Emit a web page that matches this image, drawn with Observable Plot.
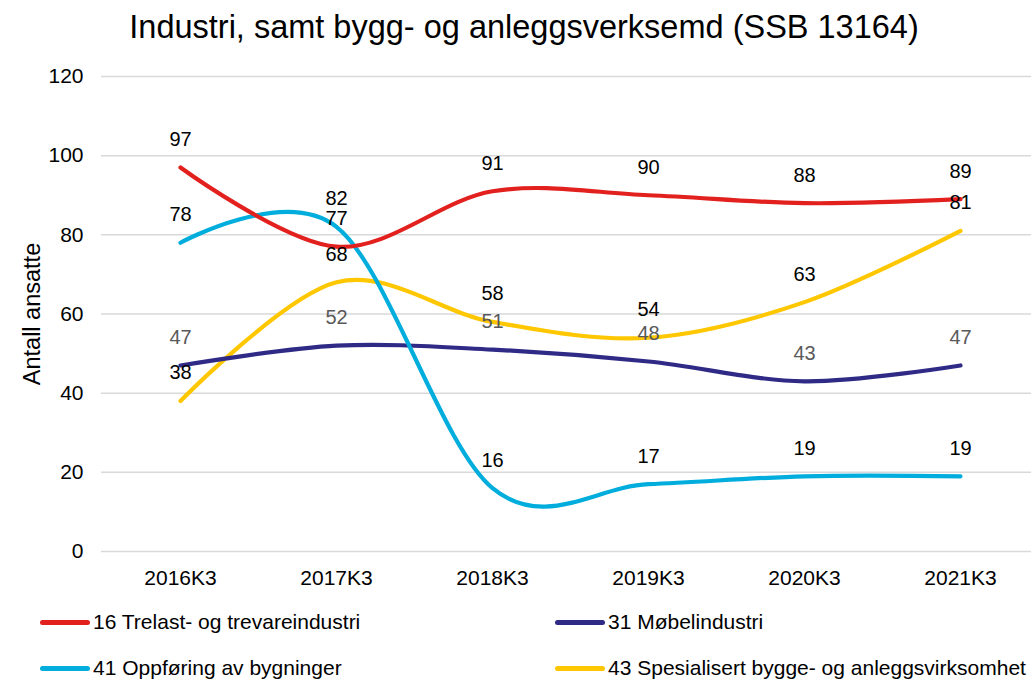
<!DOCTYPE html>
<html>
<head>
<meta charset="utf-8">
<script src="https://cdn.jsdelivr.net/npm/d3@7"></script>
<script src="https://cdn.jsdelivr.net/npm/@observablehq/plot@0.6"></script>
<style>
  html, body { margin: 0; padding: 0; background: #fff; }
  body { width: 1031px; height: 682px; position: relative; overflow: hidden; font-family: "Liberation Sans", Arial, sans-serif; }
  #title { position: absolute; left: 0; top: 0; width: 1031px; height: 55px; line-height: 55px; text-align: center; font-size: 32.5px; color: #000; padding-left: 17px; box-sizing: border-box; }
  #chart { position: absolute; left: 0; top: 55px; }
  .leg { position: absolute; display: flex; align-items: center; font-size: 21px; color: #000; white-space: nowrap; }
  .sw { width: 50px; height: 5px; border-radius: 3px; margin-right: 3px; }
</style>
</head>
<body>
<div id="title"></div>
<div id="chart"></div>
<div id="legend"></div>
<script>
const titleText = "Industri, samt bygg- og anleggsverksemd (SSB 13164)";
const yLabel = "Antall ansatte";
const categories = ["2016K3", "2017K3", "2018K3", "2019K3", "2020K3", "2021K3"];
const seriesNames = ["16 Trelast- og trevareindustri", "31 Møbelindustri", "41 Oppføring av bygninger", "43 Spesialisert bygge- og anleggsvirksomhet"];
const trelast = [97, 77, 91, 90, 88, 89];
const mobel = [47, 52, 51, 48, 43, 47];
const oppforing = [78, 82, 16, 17, 19, 19];
const spesialisert = [38, 68, 58, 54, 63, 81];
const seriesColors = ["#E2211F", "#2F2A86", "#00ADDC", "#FFC700"];
const labelColors = ["#000000", "#595959", "#000000", "#000000"];
const yTicks = [0, 20, 40, 60, 80, 100, 120];

document.getElementById("title").textContent = titleText;

const allValues = [trelast, mobel, oppforing, spesialisert];
const data = [];
allValues.forEach((vals, si) => {
  vals.forEach((v, i) => data.push({series: seriesNames[si], cat: categories[i], value: v, si}));
});
const drawOrder = [3, 1, 2, 0];

const marks = [
  Plot.ruleY(yTicks, {stroke: "#d9d9d9", strokeWidth: 1.5}),
  Plot.axisY({ticks: yTicks, tickSize: 0, tickPadding: 18, fontSize: 21, fill: "#000",
    label: yLabel, labelAnchor: "center", labelOffset: 78, labelArrow: "none"}),
  Plot.axisX({tickSize: 0, tickPadding: 19, fontSize: 21, fill: "#000", label: null}),
];
for (const si of drawOrder) {
  marks.push(Plot.line(data.filter(d => d.si === si), {
    x: "cat", y: "value", stroke: seriesColors[si], strokeWidth: 4.2,
    curve: "cardinal", tension: 0, strokeLinecap: "round", strokeLinejoin: "round"
  }));
}
for (const si of [0, 1, 2, 3]) {
  marks.push(Plot.text(data.filter(d => d.si === si), {
    x: "cat", y: "value", text: d => String(d.value), dy: -28,
    fill: labelColors[si], fontSize: 20, lineAnchor: "middle"
  }));
}

const chart = Plot.plot({
  width: 1031,
  height: 545,
  marginLeft: 101,
  marginRight: -7,
  marginTop: 21,
  marginBottom: 49,
  style: {fontFamily: "Liberation Sans, Arial, sans-serif", fontSize: "21px", color: "#000", background: "#fff", overflow: "visible"},
  x: {type: "point", domain: categories, padding: 0.5},
  y: {domain: [0, 120]},
  marks
});
document.getElementById("chart").appendChild(chart);
// enlarge the y axis title
chart.querySelectorAll("text").forEach(t => {
  if (t.textContent === yLabel) t.setAttribute("font-size", "23.5");
});

const legend = document.getElementById("legend");
const legPos = [[40, 622], [555, 622], [40, 668], [555, 668]];
seriesNames.forEach((name, i) => {
  const el = document.createElement("div");
  el.className = "leg";
  el.style.left = legPos[i][0] + "px";
  el.style.top = (legPos[i][1] - 12) + "px";
  el.style.height = "24px";
  const sw = document.createElement("div");
  sw.className = "sw";
  sw.style.background = seriesColors[i];
  const tx = document.createElement("span");
  tx.textContent = name;
  el.appendChild(sw);
  el.appendChild(tx);
  legend.appendChild(el);
});
</script>
</body>
</html>
